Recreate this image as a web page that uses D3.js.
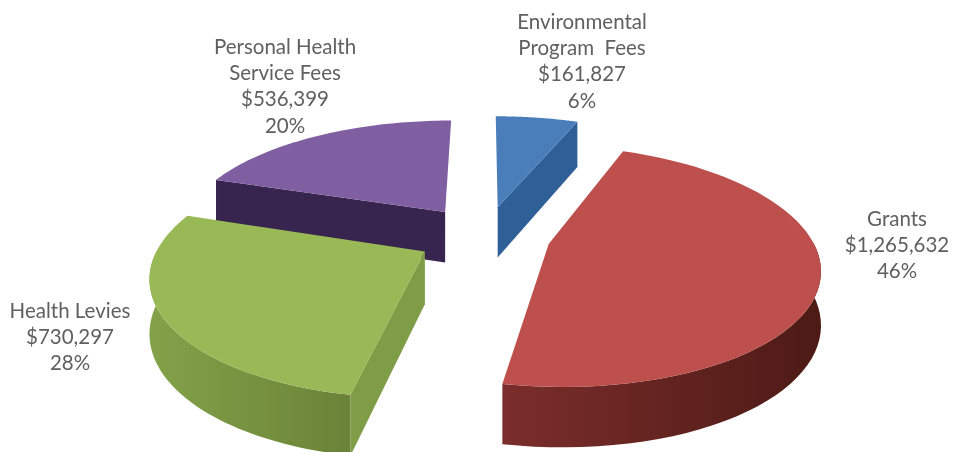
<!DOCTYPE html>
<html lang="en">
<head>
    <meta charset="utf-8">
    <title>Revenue by source</title>
    <script src="https://d3js.org/d3.v7.min.js"></script>
    <style>
        html, body { margin: 0; padding: 0; background: #fff; }
        svg { display: block; filter: blur(0.45px); }
        .label {
            font-family: Lato, "Open Sans", sans-serif;
            font-size: 20.5px;
            fill: #606060;
            text-anchor: middle;
        }
    </style>
</head>
<body>
    <svg id="chart" width="953" height="452"></svg>
    <script>
        // Data
        const categories = ["Environmental Program Fees", "Grants", "Health Levies", "Personal Health Service Fees"];
        const amounts = [161827, 1265632, 730297, 536399];
        const amountLabels = ["$161,827", "$1,265,632", "$730,297", "$536,399"];
        const percentLabels = ["6%", "46%", "28%", "20%"];
        const nameLines = [["Environmental", "Program  Fees"], ["Grants"], ["Health Levies"], ["Personal Health", "Service Fees"]];

        // Colours per slice
        const topColors = ["#4a7ebb", "#bd4f4c", "#98b955", "#7f5fa2"];
        const wallColors = [["#2f5f97", "#2c5a8f"], ["#7b2e2b", "#4d1a16"], ["#83a249", "#6b8238"], ["#38254f", "#38254f"]];
        const cutColors = ["#2f5f97", "#6f2825", "#7f9c46", "#38254f"];

        // Label anchors (centre x, first baseline)
        const labelX = [582, 897, 70, 285];
        const labelY = [29, 226, 318, 54];
        const lineStep = 26.2;

        // Projection of the pie plane: perspective with a tilted camera
        const vx = 485, vy = 236, f = 262, tilt = 0.435, persp = 0.18;
        const depth = 52;
        // the slices were pulled out and sized a bit unevenly in the original
        const explode = [0.27, 0.25, 0.26, 0.27];
        const radius = [1.03, 1, 1, 1.02];

        function project(X, Z, down) {
            const s = 1 / (1 + persp * Z);
            return [
                vx + f * X * s,
                vy - f * tilt * Z * s + (down ? depth * Math.pow(s, 0.7) : 0)
            ];
        }

        const pie = d3.pie().sort(null).startAngle(0).endAngle(2 * Math.PI);
        const arcs = pie(amounts);
        const line = d3.line();
        const svg = d3.select("#chart");
        const defs = svg.append("defs");

        // Draw far slices first
        const drawOrder = [3, 0, 2, 1];

        drawOrder.forEach(i => {
            const a = arcs[i];
            const mid = (a.startAngle + a.endAngle) / 2;
            const ox = explode[i] * Math.sin(mid);
            const oz = explode[i] * Math.cos(mid);
            const rim = (ang, down) => project(ox + radius[i] * Math.sin(ang), oz + radius[i] * Math.cos(ang), down);
            const apex = down => project(ox, oz, down);
            const angles = d3.range(0, 61).map(k => a.startAngle + (a.endAngle - a.startAngle) * k / 60);

            const g = svg.append("g").attr("class", "slice");

            // Cut faces, only the ones clearly turned to the camera
            [a.startAngle, a.endAngle].forEach((ang, side) => {
                const face = [apex(false), rim(ang, false), rim(ang, true), apex(true)];
                const area = d3.polygonArea(face);
                if ((side === 0 && area > 800) || (side === 1 && area < -800)) {
                    g.append("path")
                        .attr("d", line(face) + "Z")
                        .attr("fill", cutColors[i]);
                }
            });

            // Outer wall, only the part that faces the camera
            const front = angles.filter(ang => Math.cos(ang) < 0.02);
            if (front.length > 1) {
                const pts = front.map(ang => rim(ang, false)).concat(front.slice().reverse().map(ang => rim(ang, true)));
                const xs = d3.extent(pts, p => p[0]);
                const id = "wall" + i;
                const grad = defs.append("linearGradient").attr("id", id)
                    .attr("gradientUnits", "userSpaceOnUse")
                    .attr("x1", xs[0]).attr("x2", xs[1]).attr("y1", 0).attr("y2", 0);
                grad.append("stop").attr("offset", 0).attr("stop-color", wallColors[i][0]);
                grad.append("stop").attr("offset", 1).attr("stop-color", wallColors[i][1]);
                g.append("path")
                    .attr("d", line(pts) + "Z")
                    .attr("fill", `url(#${id})`);
            }

            // Top face
            g.append("path")
                .attr("d", line([apex(false)].concat(angles.map(ang => rim(ang, false)))) + "Z")
                .attr("fill", topColors[i]);
        });

        // Labels
        categories.forEach((c, i) => {
            const rows = nameLines[i].concat([amountLabels[i], percentLabels[i]]);
            svg.append("g").selectAll("text")
                .data(rows)
                .join("text")
                .attr("class", "label")
                .attr("x", labelX[i])
                .attr("y", (d, k) => labelY[i] + k * lineStep)
                .style("white-space", "pre")
                .text(d => d);
        });
    </script>
</body>
</html>
